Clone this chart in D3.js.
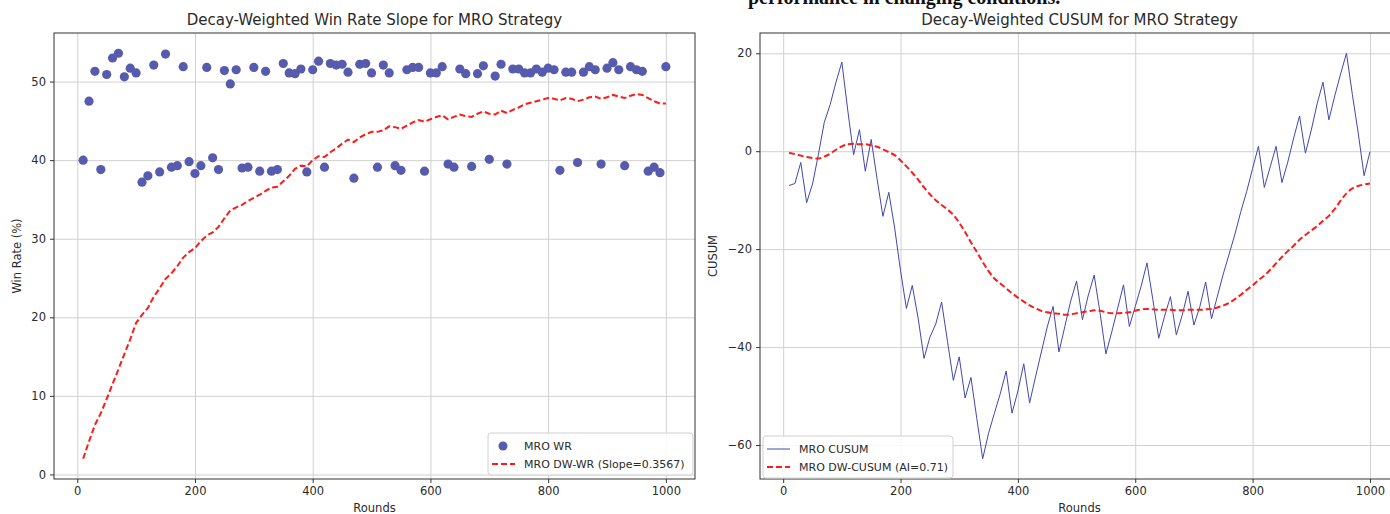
<!DOCTYPE html>
<html lang="en">
<head>
    <meta charset="UTF-8">
    <title>MRO Strategy - Decay-Weighted Win Rate and CUSUM</title>
    <script src="https://cdn.jsdelivr.net/npm/d3@7/dist/d3.min.js"></script>
    <style>
        body { margin: 0; background: #fff; }
        svg { display: block; font-family: 'DejaVu Sans', sans-serif; }
        .grid line { stroke: #d0d0d0; stroke-width: 1; }
        .grid path { display: none; }
        .axis path { display: none; }
        .axis line { stroke: #333; }
        .axis text { fill: #2a2a2a; font-size: 11.5px; font-family: 'DejaVu Sans', sans-serif; }
        .frame { fill: none; stroke: #333; stroke-width: 1; }
        .title { font-size: 15px; fill: #2a2a2a; }
        .label { font-size: 11.5px; fill: #2a2a2a; }
        .legend text { font-size: 11px; fill: #2a2a2a; }
        .pagetext { font-family: 'Liberation Serif', serif; font-weight: bold; font-size: 20px; fill: #111; }
    </style>
</head>
<body>
<div id="chart"></div>
<script>
// rounds sampled every 10
const rounds = [10,20,30,40,50,60,70,80,90,100,110,120,130,140,150,160,170,180,190,200,
    210,220,230,240,250,260,270,280,290,300,310,320,330,340,350,360,370,380,390,400,
    410,420,430,440,450,460,470,480,490,500,510,520,530,540,550,560,570,580,590,600,
    610,620,630,640,650,660,670,680,690,700,710,720,730,740,750,760,770,780,790,800,
    810,820,830,840,850,860,870,880,890,900,910,920,930,940,950,960,970,980,990,1000];

// MRO win rate (%) per checkpoint
const winRate = [40.0,47.5,51.3,38.8,50.9,53.0,53.6,50.6,51.7,51.1,
    37.2,38.0,52.1,38.5,53.5,39.1,39.3,51.9,39.8,38.3,
    39.3,51.8,40.3,38.8,51.4,49.7,51.5,39.0,39.1,51.8,
    38.6,51.3,38.6,38.8,52.3,51.1,51.0,51.6,38.5,51.5,
    52.6,39.1,52.3,52.1,52.2,51.2,37.7,52.2,52.3,51.1,
    39.1,52.1,51.1,39.3,38.7,51.5,51.8,51.8,38.6,51.1,
    51.1,51.9,39.5,39.1,51.6,51.0,39.2,51.0,52.0,40.1,
    50.7,52.2,39.5,51.6,51.6,51.1,51.1,51.6,51.2,51.7,
    51.5,38.7,51.2,51.2,39.7,51.2,51.9,51.5,39.5,51.7,
    52.4,51.5,39.3,51.9,51.5,51.3,38.6,39.1,38.4,51.9];

// decay-weighted win rate
const dwWinRate = [2.0,4.2,6.3,7.8,9.6,11.5,13.4,15.3,17.2,19.3,
    20.3,21.2,22.6,23.7,24.9,25.6,26.5,27.6,28.3,28.8,
    29.7,30.4,30.8,31.5,32.6,33.6,34.0,34.3,34.8,35.2,
    35.6,36.1,36.5,36.6,37.3,38.0,38.9,39.3,39.2,40.0,
    40.5,40.4,41.0,41.5,42.1,42.6,42.3,42.9,43.3,43.6,
    43.6,43.8,44.3,44.2,44.0,44.4,44.8,45.1,44.9,45.2,
    45.5,45.7,45.2,45.5,45.8,45.6,45.5,45.9,46.2,45.9,
    45.8,46.3,46.0,46.4,46.7,47.1,47.3,47.5,47.7,47.9,
    47.8,47.6,47.9,47.8,47.5,47.7,48.0,48.1,47.8,48.0,
    48.3,48.1,47.9,48.2,48.4,48.3,47.9,47.5,47.2,47.2];

// CUSUM
const cusum = [-7.0,-6.6,-2.3,-10.5,-6.7,-0.7,5.9,9.5,14.1,18.2,
    8.4,-0.7,4.4,-4.1,2.4,-5.6,-13.3,-8.4,-15.7,-24.4,
    -32.1,-27.4,-34.1,-42.3,-38.0,-35.3,-30.8,-38.8,-46.8,-42.0,
    -50.4,-46.2,-54.6,-62.8,-57.6,-53.5,-49.5,-44.9,-53.5,-49.0,
    -43.4,-51.4,-46.1,-41.0,-35.9,-31.7,-41.0,-35.8,-30.6,-26.5,
    -34.4,-29.4,-25.3,-33.0,-41.4,-36.9,-32.1,-27.3,-35.8,-31.7,
    -27.6,-22.8,-30.3,-38.2,-33.7,-29.7,-37.5,-33.5,-28.6,-35.5,
    -31.8,-26.7,-34.2,-29.6,-25.1,-21.0,-16.9,-12.3,-8.2,-3.5,
    1.0,-7.4,-3.2,1.0,-6.4,-2.2,2.7,7.2,-0.4,4.3,
    9.7,14.1,6.4,11.3,15.8,20.0,11.6,3.7,-5.0,-0.1];

// decay-weighted CUSUM
const dwCusum = [-0.3,-0.6,-0.9,-1.2,-1.4,-1.5,-1.1,-0.5,0.3,1.0,
    1.4,1.5,1.4,1.4,1.2,0.9,0.4,-0.2,-0.8,-1.9,
    -3.1,-4.4,-5.8,-7.4,-8.8,-10.0,-11.0,-11.9,-13.0,-14.6,
    -16.5,-18.6,-20.6,-22.6,-24.5,-26.0,-27.0,-28.0,-29.0,-29.9,
    -30.7,-31.5,-32.1,-32.6,-32.9,-33.1,-33.2,-33.4,-33.3,-33.1,
    -32.9,-32.7,-32.5,-32.6,-32.9,-33.1,-33.1,-33.0,-32.9,-32.6,
    -32.3,-32.2,-32.3,-32.4,-32.4,-32.4,-32.5,-32.5,-32.4,-32.4,
    -32.4,-32.3,-32.2,-31.9,-31.5,-31.0,-30.2,-29.3,-28.3,-27.4,
    -26.3,-25.4,-24.2,-22.9,-21.6,-20.4,-19.3,-18.1,-17.1,-16.2,
    -15.3,-14.2,-13.2,-11.8,-10.1,-8.6,-7.6,-7.1,-6.8,-6.6];

const xTicks = [0, 200, 400, 600, 800, 1000];
const wrTicks = [0, 10, 20, 30, 40, 50];
const cusumTicks = [-60, -40, -20, 0, 20];

const W = 1390, H = 514;
const BLUE_DOT = "#575bad", BLUE_LINE = "#4048ad", RED = "#ff1a1a";

const svg = d3.select("#chart").append("svg")
    .attr("width", W).attr("height", H);

// matplotlib-like 5% padding
function padded(values) {
    const [lo, hi] = d3.extent(values);
    const m = (hi - lo) * 0.05;
    return [lo - m, hi + m];
}

function drawPanel(cfg) {
    const { left, right, top, bottom } = cfg.box;
    const x = d3.scaleLinear().domain(padded(rounds)).range([left, right]);
    const y = d3.scaleLinear().domain(padded(cfg.extentValues)).range([bottom, top]);

    const g = svg.append("g");
    const clipId = "clip-" + cfg.id;
    g.append("clipPath").attr("id", clipId)
        .append("rect").attr("x", left).attr("y", top)
        .attr("width", right - left).attr("height", bottom - top);

    // grid
    g.append("g").attr("class", "grid")
        .attr("transform", `translate(0,${bottom})`)
        .call(d3.axisBottom(x).tickValues(xTicks).tickSize(-(bottom - top)).tickFormat(""));
    g.append("g").attr("class", "grid")
        .attr("transform", `translate(${left},0)`)
        .call(d3.axisLeft(y).tickValues(cfg.yTicks).tickSize(-(right - left)).tickFormat(""));

    const plot = g.append("g").attr("clip-path", `url(#${clipId})`);
    cfg.drawMarks(plot, x, y);

    g.append("rect").attr("class", "frame")
        .attr("x", left).attr("y", top)
        .attr("width", right - left).attr("height", bottom - top);

    // axes
    g.append("g").attr("class", "axis")
        .attr("transform", `translate(0,${bottom})`)
        .call(d3.axisBottom(x).tickValues(xTicks).tickSizeOuter(0).tickSize(4).tickPadding(4).tickFormat(d3.format("d")));
    g.append("g").attr("class", "axis")
        .attr("transform", `translate(${left},0)`)
        .call(d3.axisLeft(y).tickValues(cfg.yTicks).tickSizeOuter(0).tickSize(4).tickPadding(4).tickFormat(d3.format("d")));

    // texts
    g.append("text").attr("class", "title")
        .attr("x", (left + right) / 2).attr("y", 25)
        .attr("text-anchor", "middle").text(cfg.title);
    g.append("text").attr("class", "label")
        .attr("x", (left + right) / 2).attr("y", 512)
        .attr("text-anchor", "middle").text("Rounds");
    g.append("text").attr("class", "label")
        .attr("transform", `translate(${cfg.yLabelX},${(top + bottom) / 2}) rotate(-90)`)
        .attr("text-anchor", "middle").text(cfg.yLabel);

    // legend
    const lg = g.append("g").attr("class", "legend")
        .attr("transform", `translate(${cfg.legend.x},${cfg.legend.y})`);
    lg.append("rect").attr("width", cfg.legend.w).attr("height", 42)
        .attr("rx", 3).attr("fill", "#fff").attr("fill-opacity", 0.85)
        .attr("stroke", "#d0d0d0");
    cfg.legend.items.forEach((it, i) => {
        const cy = 13 + i * 18;
        if (it.type === "dot") {
            lg.append("circle").attr("cx", 15).attr("cy", cy).attr("r", 4.5).attr("fill", it.color);
        } else {
            lg.append("line").attr("x1", 4).attr("x2", 27).attr("y1", cy).attr("y2", cy)
                .attr("stroke", it.color).attr("stroke-width", it.width)
                .attr("stroke-dasharray", it.dash || null);
        }
        lg.append("text").attr("x", 36).attr("y", cy + 4).text(it.label);
    });
}

// left panel: win rate slope
drawPanel({
    id: "wr",
    box: { left: 54, right: 695, top: 33, bottom: 479 },
    extentValues: winRate.concat(dwWinRate),
    yTicks: wrTicks,
    title: "Decay-Weighted Win Rate Slope for MRO Strategy",
    yLabel: "Win Rate (%)",
    yLabelX: 21,
    drawMarks: (p, x, y) => {
        p.selectAll("circle").data(rounds).join("circle")
            .attr("cx", d => x(d))
            .attr("cy", (d, i) => y(winRate[i]))
            .attr("r", 4.6)
            .attr("fill", BLUE_DOT);
        p.append("path").datum(rounds)
            .attr("fill", "none").attr("stroke", RED).attr("stroke-width", 2)
            .attr("stroke-dasharray", "6,3")
            .attr("d", d3.line().x(d => x(d)).y((d, i) => y(dwWinRate[i])));
    },
    legend: { x: 488, y: 433, w: 205, items: [
        { type: "dot", color: BLUE_DOT, label: "MRO WR" },
        { type: "line", color: RED, width: 2, dash: "6,3", label: "MRO DW-WR (Slope=0.3567)" }
    ] }
});

// right panel: CUSUM
drawPanel({
    id: "cusum",
    box: { left: 760, right: 1399, top: 33, bottom: 479 },
    extentValues: cusum.concat(dwCusum),
    yTicks: cusumTicks,
    title: "Decay-Weighted CUSUM for MRO Strategy",
    yLabel: "CUSUM",
    yLabelX: 717,
    drawMarks: (p, x, y) => {
        p.append("path").datum(rounds)
            .attr("fill", "none").attr("stroke", BLUE_LINE).attr("stroke-width", 1)
            .attr("d", d3.line().x(d => x(d)).y((d, i) => y(cusum[i])));
        p.append("path").datum(rounds)
            .attr("fill", "none").attr("stroke", RED).attr("stroke-width", 2)
            .attr("stroke-dasharray", "6,3")
            .attr("d", d3.line().curve(d3.curveMonotoneX).x(d => x(d)).y((d, i) => y(dwCusum[i])));
    },
    legend: { x: 763, y: 436, w: 190, items: [
        { type: "line", color: BLUE_LINE, width: 1, label: "MRO CUSUM" },
        { type: "line", color: RED, width: 2, dash: "6,3", label: "MRO DW-CUSUM (AI=0.71)" }
    ] }
});

// cropped line of document text above the right chart (only its lower edge is visible)
svg.append("text").attr("class", "pagetext")
    .attr("x", 748).attr("y", 4)
    .text("performance in changing conditions.");
</script>
</body>
</html>
